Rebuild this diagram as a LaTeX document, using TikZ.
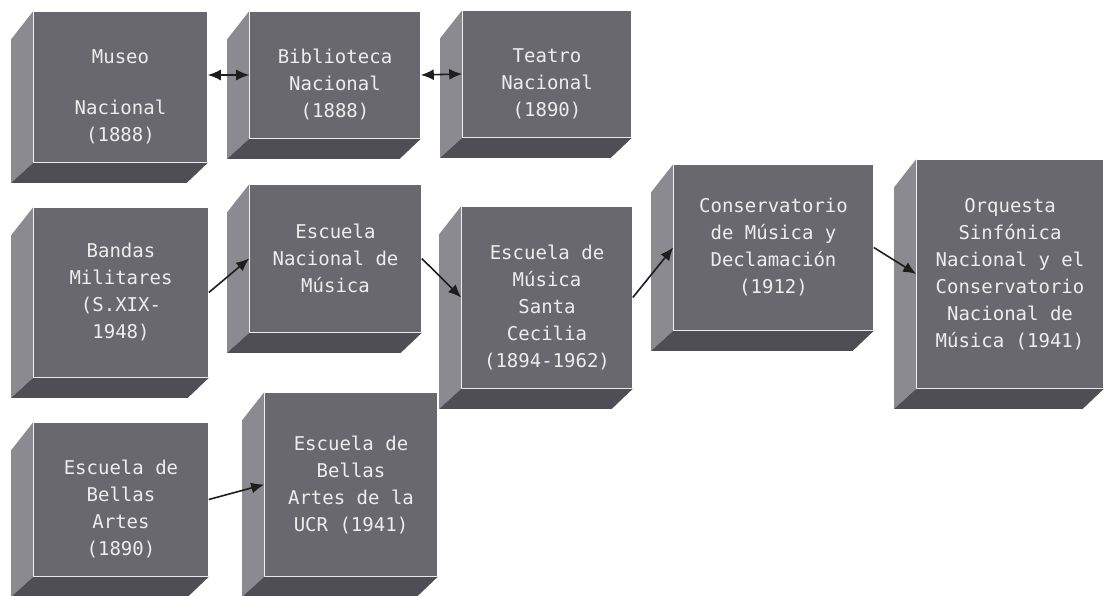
\documentclass[tikz,border=0pt]{standalone}
\usepackage{fontspec}
\setmonofont{DejaVu Sans Mono}
\usetikzlibrary{arrows.meta}

\definecolor{boxface}{RGB}{104,104,110}
\definecolor{boxlight}{RGB}{138,138,144}
\definecolor{boxdark}{RGB}{78,78,84}
\definecolor{arrowgray}{RGB}{30,30,30}

% pushes a text block about 10pt down in its box
\newcommand{\lowtext}{\rule{0pt}{34pt}}

\begin{document}
\begin{tikzpicture}[
    x=1pt, y=-1pt,
    >={Latex[length=13pt,width=11pt]}, line width=1.6pt,
    box/.style={rectangle, fill=boxface, inner sep=0pt, align=center,
      text=white!93!black, font=\ttfamily\fontsize{19}{27}\selectfont},
    link/.style={->, draw=arrowgray},
    both/.style={<->, draw=arrowgray}
  ]
  \useasboundingbox (0,0) rectangle (1105,596);

  % first row
  \node[box, minimum width=173pt, minimum height=150pt] (museo) at (120.5,87) {\lowtext Museo\\[24pt]Nacional\\(1888)};
  \node[box, minimum width=170pt, minimum height=126pt] (biblioteca) at (335,75) {\lowtext Biblioteca\\Nacional\\(1888)};
  \node[box, minimum width=168pt, minimum height=126pt] (teatro) at (547,74) {\lowtext Teatro\\Nacional\\(1890)};

  % second row
  \node[box, minimum width=174pt, minimum height=169pt] (bandas) at (121,292.5) {Bandas\\Militares\\(S.XIX-\\1948)};
  \node[box, minimum width=171pt, minimum height=147pt] (escuelanac) at (335.5,258.5) {Escuela\\Nacional de\\Música};
  \node[box, minimum width=170pt, minimum height=181pt] (cecilia) at (547,297.5) {\lowtext Escuela de\\Música\\Santa\\Cecilia\\(1894-1962)};
  \node[box, minimum width=199pt, minimum height=165pt] (conservatorio) at (773.5,247.5) {Conservatorio\\de Música y\\Declamación\\(1912)};
  \node[box, minimum width=186pt, minimum height=228pt] (orquesta) at (1010,274) {Orquesta\\Sinfónica\\Nacional y el\\Conservatorio\\Nacional de\\Música (1941)};

  % third row
  \node[box, minimum width=174pt, minimum height=153pt] (bellasartes) at (121,499.5) {\lowtext Escuela de\\Bellas\\Artes\\(1890)};
  \node[box, minimum width=172pt, minimum height=183pt] (ucr) at (351,484.5) {Escuela de\\Bellas\\Artes de la\\UCR (1941)};

  % bevel sides
  \foreach \n in {museo, biblioteca, teatro, bandas, escuelanac, cecilia,
                  conservatorio, orquesta, bellasartes, ucr} {
    \fill[boxlight] (\n.north west) -- ++(-22,28) -- ([shift={(-22,20)}]\n.south west)
      -- (\n.south west) -- cycle;
    \fill[boxdark] (\n.south west) -- ++(-22,20) -- ([shift={(-21,20)}]\n.south east)
      -- (\n.south east) -- cycle;
  }

  \draw[both] (museo.east |- biblioteca.west) -- (biblioteca.west);
  \draw[both] (biblioteca.east) -- (teatro.west);
  \draw[link] (bandas.east) -- (escuelanac.west);
  \draw[link] (escuelanac.east) -- (cecilia.west);
  \draw[link] (cecilia.east) -- (conservatorio.west);
  \draw[link] (conservatorio.east) -- (orquesta.west);
  \draw[link] (bellasartes.east) -- (ucr.west);
\end{tikzpicture}
\end{document}
